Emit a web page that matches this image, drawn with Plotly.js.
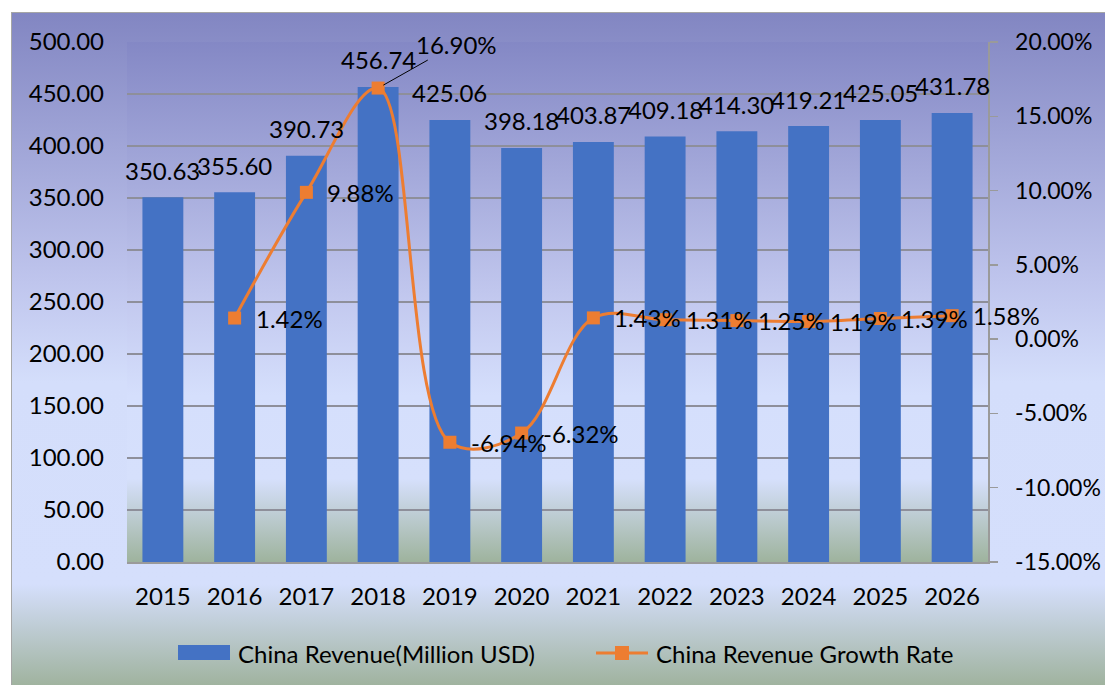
<!DOCTYPE html>
<html>
<head>
<meta charset="utf-8">
<script src="https://cdn.plot.ly/plotly-3.0.1.min.js"></script>
<style>
  html, body { margin: 0; padding: 0; background: #ffffff; }
  #wrap { position: relative; width: 1105px; height: 685px; overflow: hidden; }
  #outerbg { position: absolute; left: 11px; top: 12px; width: 1094px; height: 673px;
    border-top: 1px solid #a6a6a6; border-left: 1px solid #a6a6a6; box-sizing: border-box;
    background: linear-gradient(to bottom, #8286c2 0%, #bfc5ed 40%, #d4defb 55%, #d5dffc 85%, #a0b39f 100%); }
  #plotbg { position: absolute; left: 127px; top: 42px; width: 861px; height: 520px;
    background: linear-gradient(to bottom, #8488c5 0%, #c3c9ef 50%, #d5dffc 68%, #d6e0fc 84%, #9eb39d 100%); }
  #chart { position: absolute; left: 0; top: 0; width: 1105px; height: 685px; }
</style>
</head>
<body>
<div id="wrap">
  <div id="outerbg"></div>
  <div id="plotbg"></div>
  <div id="chart"></div>
</div>
<script>
const years = ['2015','2016','2017','2018','2019','2020','2021','2022','2023','2024','2025','2026'];
const revenue = [350.63, 355.60, 390.73, 456.74, 425.06, 398.18, 403.87, 409.18, 414.30, 419.21, 425.05, 431.78];
const revenueLabels = ['350.63','355.60','390.73','456.74','425.06','398.18','403.87','409.18','414.30','419.21','425.05','431.78'];
const growth = [null, 1.42, 9.88, 16.90, -6.94, -6.32, 1.43, 1.31, 1.25, 1.19, 1.39, 1.58];
const growthLabels = ['', '1.42%', '9.88%', '16.90%', '-6.94%', '-6.32%', '1.43%', '1.31%', '1.25%', '1.19%', '1.39%', '1.58%'];
const revTicks = [0, 50, 100, 150, 200, 250, 300, 350, 400, 450, 500];
const rateTicks = [-15, -10, -5, 0, 5, 10, 15, 20];
const rateTickLabels = ['-15.00%', '-10.00%', '-5.00%', '0.00%', '5.00%', '10.00%', '15.00%', '20.00%'];
const seriesNames = ['China Revenue(Million USD)', 'China Revenue Growth Rate'];

const FONT = 'Lato, "Open Sans", sans-serif';
const FS = 24;
const BLUE = '#4472c4';
const ORANGE = '#ed7d31';

const traces = [
  {
    type: 'bar', x: years, y: revenue, name: seriesNames[0],
    marker: { color: BLUE }, yaxis: 'y', hoverinfo: 'skip', showlegend: false
  },
  {
    type: 'scatter', mode: 'lines+markers', x: years, y: growth, name: seriesNames[1],
    yaxis: 'y2', connectgaps: false,
    line: { color: ORANGE, width: 3, shape: 'spline', smoothing: 1 },
    marker: { color: ORANGE, symbol: 'square', size: 13 },
    cliponaxis: false, hoverinfo: 'skip', showlegend: false
  }
];

const txtFont = { family: FONT, size: FS, color: '#000' };
const annotations = [];
years.forEach((yr, i) => {
  annotations.push({
    x: i, y: revenue[i], xref: 'x', yref: 'y', text: revenueLabels[i],
    showarrow: false, yshift: 27, font: txtFont
  });
  if (growth[i] === null) return;
  if (yr === '2018') {
    annotations.push({
      x: i, y: growth[i], xref: 'x', yref: 'y2', text: growthLabels[i],
      showarrow: true, arrowhead: 0, arrowwidth: 1, arrowcolor: '#000',
      ax: 78, ay: -44, standoff: 6, font: txtFont
    });
  } else {
    annotations.push({
      x: i, y: growth[i], xref: 'x', yref: 'y2', text: growthLabels[i],
      showarrow: false, xanchor: 'left', xshift: 19, font: txtFont
    });
  }
});

// custom legend (paper coordinates relative to the plot area)
const px = v => (v - 127) / 861;
const py = v => (562 - v) / 520;
annotations.push({ xref: 'paper', yref: 'paper', x: px(236), y: py(653), xanchor: 'left', yanchor: 'middle',
  text: seriesNames[0], showarrow: false, font: txtFont });
annotations.push({ xref: 'paper', yref: 'paper', x: px(654), y: py(653), xanchor: 'left', yanchor: 'middle',
  text: seriesNames[1], showarrow: false, font: txtFont });
const shapes = [
  { type: 'rect', xref: 'paper', yref: 'paper', x0: px(178), x1: px(230), y0: py(660), y1: py(645),
    fillcolor: BLUE, line: { width: 0 } },
  { type: 'line', xref: 'paper', yref: 'paper', x0: px(596), x1: px(648), y0: py(653), y1: py(653),
    line: { color: ORANGE, width: 3 } },
  { type: 'rect', xref: 'paper', yref: 'paper', x0: px(615), x1: px(629), y0: py(660), y1: py(646),
    fillcolor: ORANGE, line: { width: 0 } }
];

const layout = {
  width: 1105, height: 685,
  margin: { l: 127, r: 117, t: 42, b: 123 },
  paper_bgcolor: 'rgba(0,0,0,0)',
  plot_bgcolor: 'rgba(0,0,0,0)',
  font: txtFont,
  bargap: 0.43,
  showlegend: false,
  xaxis: {
    type: 'category', range: [-0.5, 11.5], showgrid: false, showline: true, linecolor: '#9a9a9a', linewidth: 1.5,
    ticks: '', ticklabelstandoff: 13, tickfont: txtFont, fixedrange: true
  },
  yaxis: {
    range: [0, 500], tickvals: revTicks, tickformat: '.2f',
    showgrid: true, gridcolor: '#8e8f9a', gridwidth: 1.3, zeroline: false,
    showline: false, ticks: '', ticklabelstandoff: 22,
    tickfont: txtFont, fixedrange: true
  },
  yaxis2: {
    overlaying: 'y', side: 'right', range: [-15, 20],
    tickvals: rateTicks, ticktext: rateTickLabels,
    showgrid: false, zeroline: false, showline: true, linecolor: '#9a9a9a', linewidth: 1.5,
    ticks: 'outside', ticklen: 8, tickcolor: '#9a9a9a', tickwidth: 1.5, ticklabelstandoff: 13,
    tickfont: { family: FONT, size: 23, color: '#000' }, fixedrange: true
  },
  annotations: annotations,
  shapes: shapes
};

Plotly.newPlot('chart', traces, layout, { staticPlot: true, displayModeBar: false });
</script>
</body>
</html>
